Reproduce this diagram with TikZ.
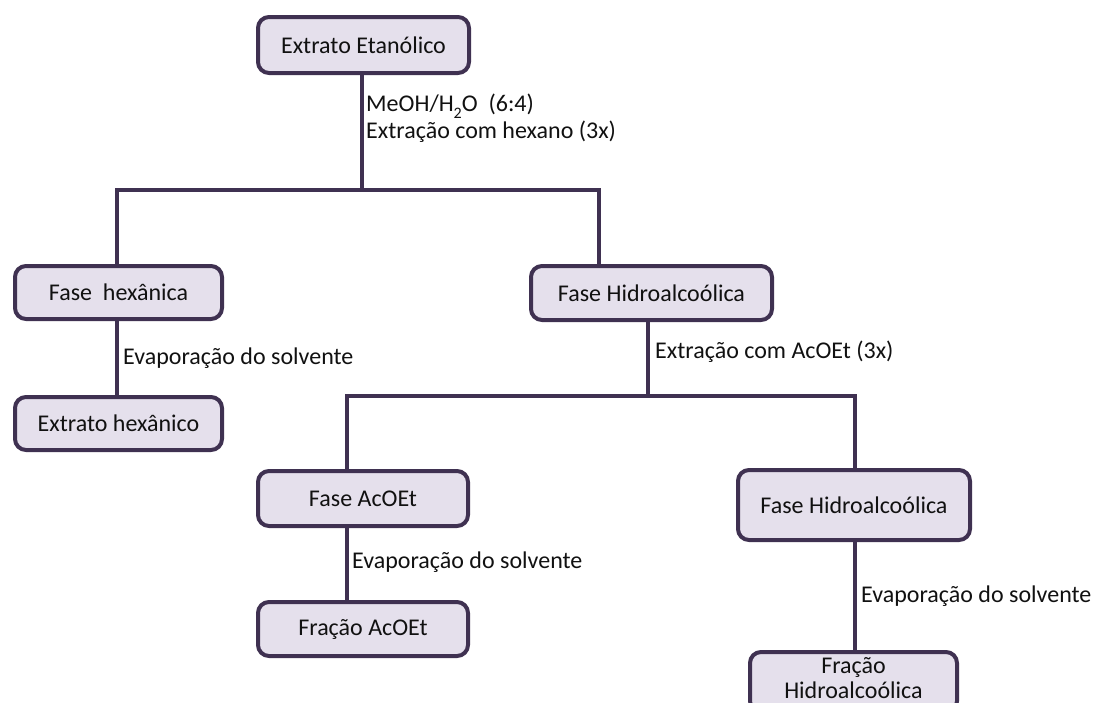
\documentclass[tikz,border=0pt]{standalone}
\usepackage{fontspec}
\setmainfont{Carlito}
\definecolor{boxline}{HTML}{3F3151}
\definecolor{boxfill}{HTML}{E5E0EC}
\definecolor{txt}{HTML}{111111}
\tikzset{
  stagebox/.style={draw=boxline, fill=boxfill, line width=4pt, rounded corners=11pt,
    inner sep=0pt, align=center, text=txt, font=\fontsize{24}{26}\selectfont},
  conn/.style={draw=boxline, line width=4pt},
  lbl/.style={anchor=west, inner sep=0pt, text=txt, font=\fontsize{24}{26}\selectfont}
}
\newcommand{\subtwo}{\raisebox{-0.28em}{\fontsize{16}{16}\selectfont 2}}
\begin{document}
\begin{tikzpicture}[x=1pt,y=-1pt]
\useasboundingbox (0,0) rectangle (1098,702);
\clip (0,0) rectangle (1098,702);
% junction coordinates
\coordinate (j1) at (362,190);
\coordinate (j1l) at (117,190);
\coordinate (j1r) at (599,190);
\coordinate (j2) at (648,396);
\coordinate (j2l) at (347,396);
\coordinate (j2r) at (855,396);
% boxes
\node[stagebox, minimum width=211pt, minimum height=56pt] (ee) at (363.5,45) {Extrato Etanólico};
\node[stagebox, minimum width=207pt, minimum height=53pt] (fh) at (118.5,292.5) {Fase~ hexânica};
\node[stagebox, minimum width=207pt, minimum height=53pt] (eh) at (118.5,423.5) {Extrato hexânico};
\node[stagebox, minimum width=241pt, minimum height=54pt] (fha) at (651.5,293) {Fase Hidroalcoólica};
\node[stagebox, minimum width=210pt, minimum height=55pt] (fa) at (363,498.5) {Fase AcOEt};
\node[stagebox, minimum width=210pt, minimum height=54pt] (fra) at (363,629) {Fração AcOEt};
\node[stagebox, minimum width=232pt, minimum height=70pt] (fhb) at (854,505) {Fase Hidroalcoólica};
\node[stagebox, minimum width=207pt, minimum height=60pt] (frh) at (853.5,682)
  {\raisebox{-16pt}[0pt][0pt]{\shortstack{Fração\\[1pt]Hidroalcoólica}}};
% connectors
\draw[conn] (ee.south -| j1) -- (j1);
\draw[conn] ([xshift=-2pt]j1l) -- ([xshift=2pt]j1r);
\draw[conn] (j1l) -- (fh.north -| j1l);
\draw[conn] (j1r) -- (fha.north -| j1r);
\draw[conn] (fh.south -| j1l) -- (eh.north -| j1l);
\draw[conn] (fha.south -| j2) -- (j2);
\draw[conn] ([xshift=-2pt]j2l) -- ([xshift=2pt]j2r);
\draw[conn] (j2l) -- (fa.north -| j2l);
\draw[conn] (j2r) -- (fhb.north -| j2r);
\draw[conn] (fa.south -| j2l) -- (fra.north -| j2l);
\draw[conn] (fhb.south -| j2r) -- (frh.north -| j2r);
% labels
\node[lbl] (l1) at (366,106) {MeOH/H\subtwo O~ (6:4)};
\node[lbl] (l2) at (366,132) {Extração com hexano (3x)};
\node[lbl] (l3) at (123,358) {Evaporação do solvente};
\node[lbl] (l4) at (655,352) {Extração com AcOEt (3x)};
\node[lbl] (l5) at (352,562) {Evaporação do solvente};
\node[lbl] (l6) at (861,596) {Evaporação do solvente};
\end{tikzpicture}
\end{document}
